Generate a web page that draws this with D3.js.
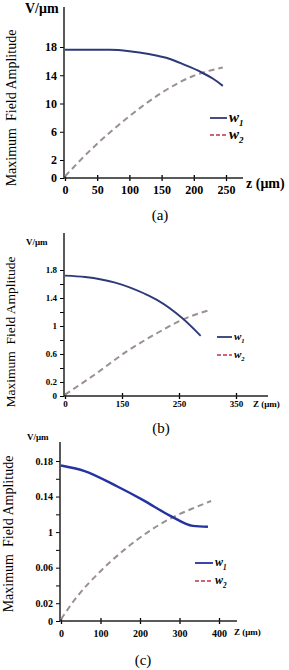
<!DOCTYPE html>
<html>
<head>
<meta charset="utf-8">
<script src="https://cdn.jsdelivr.net/npm/d3@7"></script>
<style>
  body { margin: 0; background: #fff; }
  text { font-family: "Liberation Serif", "Times New Roman", "DejaVu Serif", serif; }
</style>
</head>
<body>
<script>
const WIDTH = 289;
const HEIGHT = 670;

// panel (a)
const aZ1 = [0, 35, 70, 100, 130, 163, 185, 210, 230, 245];
const aW1 = [17.6, 17.6, 17.6, 17.4, 17.0, 16.3, 15.5, 14.5, 13.5, 12.5];
const aZ2 = [0, 43, 96, 148, 199, 245];
const aW2 = [0.2, 3.7, 7.9, 11.4, 13.9, 15.1];
const aXTicks = [0, 50, 100, 150, 200, 250];
const aYTicks = [0, 2, 6, 10, 14, 18];

// panel (b)
const bZ1 = [0, 53, 132, 190, 212, 256, 288];
const bW1 = [1.72, 1.70, 1.62, 1.46, 1.37, 1.11, 0.86];
const bZ2 = [0, 74, 159, 212, 256, 305];
const bW2 = [0.02, 0.29, 0.64, 0.90, 1.09, 1.23];
const bXTicks = [0, 150, 250, 350];
const bYTicks = [0, 0.2, 0.6, 1, 1.4, 1.8];
const bYMinor = [0.4, 0.8, 1.2, 1.6];

// panel (c)
const cZ1 = [0, 58, 144, 208, 278, 334, 372];
const cW1 = [0.175, 0.169, 0.151, 0.136, 0.118, 0.107, 0.106];
const cZ2 = [0, 40, 100, 160, 220, 280, 330, 380];
const cW2 = [0.002, 0.027, 0.056, 0.080, 0.100, 0.116, 0.126, 0.135];
const cXTicks = [0, 100, 200, 300, 400];
const cYTicks = [0, 0.02, 0.06, 0.1, 0.14, 0.18];
const cYLabels = ["0", "0.02", "0.06", "1", "0.14", "0.18"];
const cYMinor = [0.04, 0.08, 0.12, 0.16];

const SVG = d3.select("body")
  .append("svg")
  .attr("width", WIDTH)
  .attr("height", HEIGHT);

const drawPanel = (p) => {
  const g = SVG.append("g");
  const x = p.x, y = p.y;
  const ax = x.range()[0] - 1;
  const base = y(0);

  // y axis
  const yAxis = d3.axisLeft(y).tickValues(p.yTicks).tickSize(4).tickPadding(3)
    .tickFormat((d, i) => p.yLabels ? p.yLabels[i] : d3.format("~g")(d));
  const gy = g.append("g").attr("transform", `translate(${ax},0)`).call(yAxis);
  gy.attr("font-family", null);
  gy.select(".domain").remove();
  gy.selectAll("text").attr("font-weight", "bold").attr("font-size", p.tickFont);
  if (p.yMinor) {
    const gm = g.append("g").attr("transform", `translate(${ax},0)`)
      .call(d3.axisLeft(y).tickValues(p.yMinor).tickSize(4).tickFormat(""));
    gm.select(".domain").remove();
  }
  g.append("line").attr("x1", ax).attr("x2", ax).attr("y1", p.yTop).attr("y2", base)
    .attr("stroke", "#222").attr("stroke-width", 1.5);

  // x axis
  const xAxis = d3.axisBottom(x).tickValues(p.xTicks).tickSize(3).tickPadding(p.xPad);
  const gx = g.append("g").attr("transform", `translate(0,${base})`).call(xAxis);
  gx.attr("font-family", null);
  gx.select(".domain").remove();
  gx.selectAll(".tick line").attr("y1", -3).attr("y2", 3).attr("stroke-width", 1.3);
  gx.selectAll("text").attr("font-weight", "bold").attr("font-size", p.tickFont);
  g.append("line").attr("x1", ax).attr("x2", p.xEnd).attr("y1", base).attr("y2", base)
    .attr("stroke", "#222").attr("stroke-width", 1.5);

  // curves
  const linea = (zs, vs) => d3.line()
    .x((d, i) => x(zs[i])).y((d) => y(d))
    .curve(d3.curveMonotoneX)(vs);
  g.append("path").attr("d", linea(p.z2, p.w2)).attr("fill", "none")
    .attr("stroke", "#9a9092").attr("stroke-width", 2).attr("stroke-dasharray", "6,4");
  g.append("path").attr("d", linea(p.z1, p.w1)).attr("fill", "none")
    .attr("stroke", p.w1Color).attr("stroke-width", p.w1Width);

  // axis labels
  g.append("text").attr("x", p.vPos[0]).attr("y", p.vPos[1]).attr("font-weight", "bold")
    .attr("font-size", p.vFont).text("V/\u03bcm");
  g.append("text").attr("x", p.zPos[0]).attr("y", p.zPos[1]).attr("font-weight", "bold")
    .attr("font-size", p.vFont).text(p.zText);
  g.append("text")
    .attr("transform", `translate(${p.titlePos[0]},${p.titlePos[1]}) rotate(-90)`)
    .attr("text-anchor", "middle").attr("font-size", p.titleFont)
    .attr("xml:space", "preserve")
    .text("Maximum  Field Amplitude");
  g.append("text").attr("x", p.capPos[0]).attr("y", p.capPos[1]).attr("text-anchor", "middle")
    .attr("font-size", 15).text(p.caption);

  // legend
  const L = p.legend;
  [["1", p.w1Color, null, L.y1], ["2", "#cc6677", "4,2", L.y2]].forEach(([k, col, dash, ly]) => {
    g.append("line").attr("x1", L.x).attr("x2", L.x + L.len).attr("y1", ly).attr("y2", ly)
      .attr("stroke", col).attr("stroke-width", 1.8).attr("stroke-dasharray", dash);
    const t = g.append("text").attr("x", L.x + L.len + 2).attr("y", ly + L.font * 0.25)
      .attr("font-weight", "bold").attr("font-style", "italic").attr("font-size", L.font);
    t.append("tspan").text("w");
    t.append("tspan").attr("dy", L.font * 0.3).attr("font-size", L.font * 0.6).text(k);
  });
};

drawPanel({
  x: d3.scaleLinear().domain([0, 250]).range([65, 226]),
  y: d3.scaleLinear().domain([0, 2, 18]).range([178, 160, 47]),
  xTicks: aXTicks, yTicks: aYTicks, xPad: 4, tickFont: 12,
  yTop: 7, xEnd: 243,
  z1: aZ1, w1: aW1, z2: aZ2, w2: aW2, w1Color: "#2e3a78", w1Width: 2,
  vPos: [25, 13], zPos: [246, 188], zText: "z (\u03bcm)", vFont: 14,
  titlePos: [16, 108], titleFont: 14, capPos: [160, 220], caption: "(a)",
  legend: { x: 210, len: 17, y1: 118, y2: 135, font: 15 }
});

drawPanel({
  x: d3.scaleLinear().domain(bXTicks).range(bXTicks.map((d, i) => 65 + i * 57)),
  y: d3.scaleLinear().domain([0, 1.8]).range([396, 270]),
  xTicks: bXTicks, yTicks: bYTicks, yMinor: bYMinor, xPad: 2, tickFont: 9,
  yTop: 233, xEnd: 268,
  z1: bZ1, w1: bW1, z2: bZ2, w2: bW2, w1Color: "#2e3a78", w1Width: 1.8,
  vPos: [26, 245], zPos: [253, 407], zText: "Z (\u03bcm)", vFont: 9,
  titlePos: [15, 332], titleFont: 13.5, capPos: [161, 433], caption: "(b)",
  legend: { x: 217, len: 15, y1: 337, y2: 355, font: 11 }
});

drawPanel({
  x: d3.scaleLinear().domain([0, 400]).range([61, 219]),
  y: d3.scaleLinear().domain([0, 0.18]).range([621, 461]),
  xTicks: cXTicks, yTicks: cYTicks, yLabels: cYLabels, yMinor: cYMinor, xPad: 6, tickFont: 10,
  yTop: 442, xEnd: 237,
  z1: cZ1, w1: cW1, z2: cZ2, w2: cW2, w1Color: "#2433a0", w1Width: 2.4,
  vPos: [27, 440], zPos: [234, 635], zText: "Z (\u03bcm)", vFont: 9,
  titlePos: [13, 534], titleFont: 14, capPos: [143, 665], caption: "(c)",
  legend: { x: 195, len: 18, y1: 563, y2: 581, font: 12 }
});
</script>
</body>
</html>
